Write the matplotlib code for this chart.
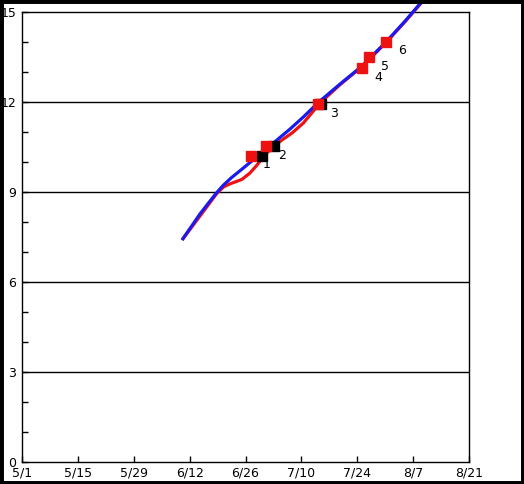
import matplotlib
matplotlib.use("Agg")
import matplotlib.pyplot as plt
from matplotlib.patches import Rectangle
from matplotlib.ticker import MultipleLocator

# x values are days since May 1
blue_x = [40.1, 44.6, 48.6, 50.4, 52.5, 55.1, 59.1, 63.4, 67.0, 70.5, 74.2, 79.7, 85.2, 91.2, 96.0, 101.5]
blue_y = [7.4, 8.27, 8.95, 9.22, 9.48, 9.76, 10.2, 10.68, 11.08, 11.5, 11.98, 12.6, 13.2, 14.0, 14.7, 15.55]

red_x = [40.1, 44.6, 48.8, 50.5, 52.1, 55.1, 57.1, 58.9, 60.4, 62.6, 65.0, 67.7, 70.5, 72.2, 74.7, 79.7, 85.2, 91.2, 96.0, 101.5]
red_y = [7.4, 8.2, 8.95, 9.17, 9.27, 9.42, 9.63, 9.9, 10.17, 10.47, 10.72, 10.97, 11.3, 11.57, 11.97, 12.58, 13.18, 13.98, 14.68, 15.53]

red_mark_x = [57.4, 61.1, 74.2, 85.2, 86.9, 91.2]
red_mark_y = [10.2, 10.53, 11.93, 13.13, 13.5, 14.0]
black_mark_x = [60.1, 63.1, 74.9]
black_mark_y = [10.2, 10.53, 11.93]

mark_labels = ["1", "2", "3", "4", "5", "6"]

x_ticks = [0, 14, 28, 42, 56, 70, 84, 98, 112]
x_tick_labels = ["5/1", "5/15", "5/29", "6/12", "6/26", "7/10", "7/24", "8/7", "8/21"]
y_ticks = [0, 3, 6, 9, 12, 15]

fig = plt.figure(figsize=(5.24, 4.84), dpi=100)
fig.patch.set_facecolor("white")
ax = fig.add_axes([22/524, 22/484, 447/524, 450/484])

ax.set_xlim(0, 112)
ax.set_ylim(0, 15)

for yv in y_ticks[1:-1]:
    ax.axhline(yv, color="black", lw=1, zorder=1)

ax.plot(red_x, red_y, color="#ee1111", lw=2.3, zorder=3, clip_on=False,
        solid_capstyle="butt", solid_joinstyle="round")
ax.plot(blue_x, blue_y, color="#1a1aee", lw=2.3, zorder=4, clip_on=False,
        solid_capstyle="butt", solid_joinstyle="round")

ax.plot(black_mark_x, black_mark_y, ls="none", marker="s", ms=7.2, mfc="black", mec="black", zorder=5)
ax.plot(red_mark_x, red_mark_y, ls="none", marker="s", ms=7.2, mfc="#ee1111", mec="#ee1111", zorder=6)

for x, y, t in zip(red_mark_x, red_mark_y, mark_labels):
    ax.annotate(t, (x, y), xytext=(16, -9), textcoords="offset pixels", fontsize=9,
                ha="center", va="center", zorder=7)

ax.set_xticks(x_ticks)
ax.set_xticklabels(x_tick_labels)
ax.set_yticks(y_ticks)
ax.set_yticklabels([str(v) for v in y_ticks])
ax.yaxis.set_minor_locator(MultipleLocator(1))
ax.tick_params(axis="both", which="both", direction="in", length=4, width=1, color="black", labelsize=9)
ax.tick_params(axis="y", pad=4)
ax.tick_params(axis="x", pad=3)
for s in ax.spines.values():
    s.set_linewidth(1)
    s.set_color("black")

fig.patches.append(Rectangle((0, 0), 1, 1, transform=fig.transFigure, fill=False,
                             edgecolor="black", lw=5, zorder=10))

fig.savefig("out.png", dpi=100)
